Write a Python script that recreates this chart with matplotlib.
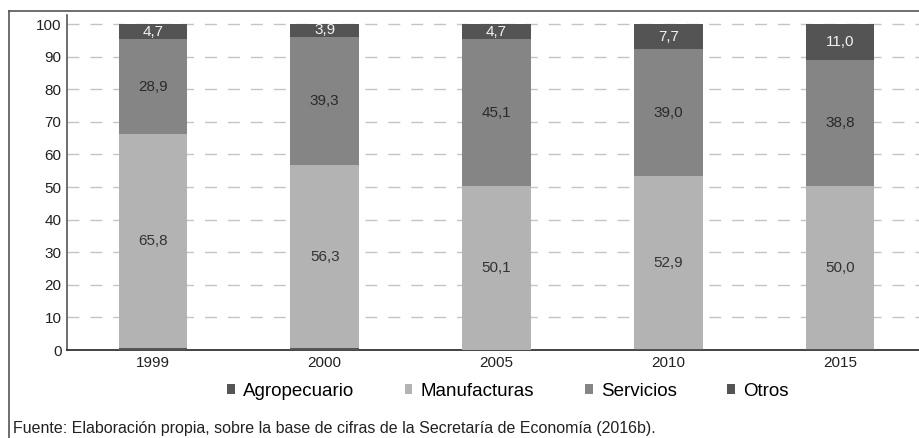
import matplotlib
matplotlib.use("Agg")
import matplotlib.pyplot as plt
from matplotlib.lines import Line2D
import numpy as np

plt.rcParams['font.family'] = ['Liberation Sans', 'DejaVu Sans']

years = ["1999", "2000", "2005", "2010", "2015"]
agropecuario = [0.6, 0.5, 0.1, 0.4, 0.2]
manufacturas = [65.8, 56.3, 50.1, 52.9, 50.0]
servicios = [28.9, 39.3, 45.1, 39.0, 38.8]
otros = [4.7, 3.9, 4.7, 7.7, 11.0]
yticks = [0, 10, 20, 30, 40, 50, 60, 70, 80, 90, 100]

series = [
    ("Agropecuario", agropecuario, "#555555", None),
    ("Manufacturas", manufacturas, "#b3b3b3", "#333333"),
    ("Servicios", servicios, "#858585", "#2a2a2a"),
    ("Otros", otros, "#545454", "#f2f2f2"),
]

fig = plt.figure(figsize=(9.2, 4.38), dpi=100)
ax = fig.add_axes([67 / 920, 88 / 438, 859 / 920, 335 / 438])

x = np.arange(len(years))
bottom = np.zeros(len(years))
for name, vals, color, tcolor in series:
    vals = np.array(vals)
    ax.bar(x, vals, 0.40, bottom=bottom, color=color, label=name, zorder=3)
    if tcolor is not None:
        for xi, b, v in zip(x, bottom, vals):
            ax.text(xi, b + v / 2, f"{v:.1f}".replace(".", ","), ha="center",
                    va="center", fontsize=11, color=tcolor, zorder=4)
    bottom += vals

ax.set_xlim(-0.5, 4.5)
ax.set_ylim(0, 102.8)
ax.set_xticks(x, years)
ax.set_yticks(yticks)
ax.tick_params(axis="both", length=0, labelsize=11, labelcolor="#222222")
ax.tick_params(axis="y", pad=4)
ax.tick_params(axis="x", pad=4)

for yv in yticks[1:]:
    ax.axhline(yv, color="#c4c4c4", lw=1.0, dashes=(8.6, 7.9), zorder=1)

for side in ("top", "right"):
    ax.spines[side].set_visible(False)
ax.spines["left"].set_color("#555555")
ax.spines["left"].set_linewidth(1.2)
ax.spines["bottom"].set_color("#222222")
ax.spines["bottom"].set_linewidth(1.2)

fig.legend(loc="center", bbox_to_anchor=(508 / 920, 47 / 438), ncol=4,
           frameon=False, fontsize=13.5, handlelength=0.4, handleheight=0.4,
           handletextpad=0.45, columnspacing=2.7)

# outer frame of the figure (top and left edges)
fig.add_artist(Line2D([9 / 920, 1.0], [1 - 11 / 438, 1 - 11 / 438],
                      transform=fig.transFigure, color="#555555", lw=1.2))
fig.add_artist(Line2D([9 / 920, 9 / 920], [0, 1 - 11 / 438],
                      transform=fig.transFigure, color="#555555", lw=1.2))

fig.text(13 / 920, 1.5 / 438,
         "Fuente: Elaboración propia, sobre la base de cifras de la Secretaría de Economía (2016b).",
         ha="left", va="bottom", fontsize=11.5, color="#222222")

fig.savefig("out.png", dpi=100)
